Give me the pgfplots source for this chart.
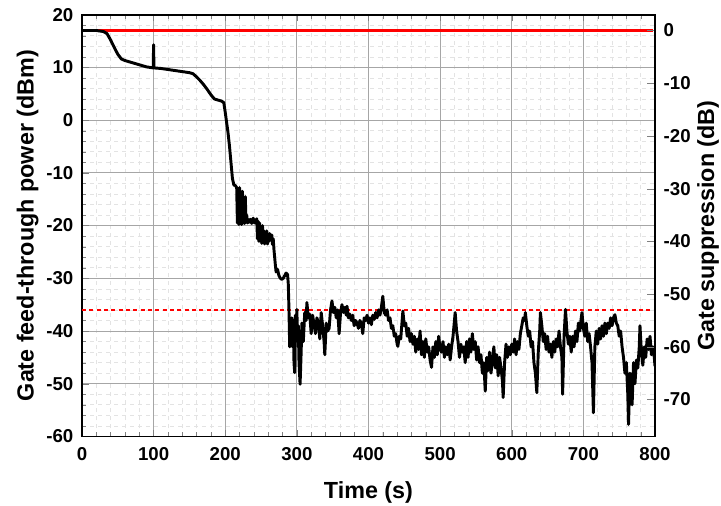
\documentclass[border=0pt]{standalone}
\usepackage{fontspec}
\setmainfont{Liberation Sans}
\usepackage{pgfplots}
\pgfplotsset{compat=1.18}

\pgfplotsset{
  common/.style={
    scale only axis, width=430pt, height=316.5pt,
    xmin=0, xmax=800,
    tick label style={font=\fontsize{14}{15}\selectfont\bfseries},
    label style={font=\fontsize{17.5}{18}\selectfont\bfseries},
    /pgf/number format/assume math mode=true,
    tick align=inside,
    axis line style={line width=1.3pt},
  }
}

\begin{document}
\begin{tikzpicture}
\useasboundingbox (-61.5pt,-52pt) rectangle (479.5pt,327.5pt);
\begin{axis}[common,
  ymin=-60, ymax=20,
  xtick={0,100,...,800}, ytick={-60,-50,...,20},
  minor x tick num=4, minor y tick num=4,
  xtick pos=both, ytick pos=left,
  grid=both,
  major grid style={gray!70, line width=0.6pt},
  minor grid style={gray!22, dashed, line width=0.5pt},
  major tick length=5pt, minor tick length=3pt,
  xticklabel style={yshift=-4.5pt},
  yticklabel style={xshift=-3pt},
  xlabel={Time (s)}, ylabel={Gate feed-through power (dBm)},
  xlabel style={yshift=-9pt},
  ylabel style={yshift=-1pt},
]
\addplot[red, line width=1.8pt] coordinates {(0,17) (797,17)};
\addplot[red, dash pattern=on 3pt off 2.5pt, line width=1.6pt] coordinates {(0,-36) (800,-36)};
\addplot[black, line width=2.2pt, line join=round] coordinates {
(0,17) (20,17) (30,16.8) (35,16.4) (40,15.2) (45,13.8) (50,12.5) (55,11.6) (60,11.3)
(70,10.9) (80,10.5) (90,10.1) (99.5,9.9) (100,14.3) (100.5,9.9) (110,9.8) (120,9.6)
(130,9.4) (140,9.2) (150,9.0) (155,8.8) (160,8.2) (165,7.5) (170,6.7) (175,5.8)
(180,4.8) (185,4.0) (190,3.8) (195,3.6) (198,3.3) (200,1.5) (202,-0.5) (204,-2.5)
(206,-5) (208,-8) (210,-11) (212,-12.3) (214,-12.4) (216,-12.8)
(217,-19.5) (218,-13.2) (219,-19.8) (220,-12.8) (221,-18.5) (222,-14) (223,-19.8)
(224,-13.5) (225,-19.5) (226,-16) (227,-19.6) (228,-14.5) (229,-19) (230,-18)
(231,-19.5) (232,-18.8) (233,-19.4) (235,-18.8) (237,-19.6) (239,-18.6) (241,-19.5)
(243,-19.2) (244,-18.7) (245,-22.5) (246,-19.2) (247,-23) (248,-19.5) (249,-22)
(250,-20.5) (251,-23.4) (252,-20) (253,-22.5) (254,-21) (255,-23.5) (256,-21.5)
(257,-22.8) (258,-21) (259,-23.5) (260,-21.8) (261,-23) (262,-21.5) (263,-22.5)
(264,-22.8) (265,-21.8) (266,-23.6) (267,-22.5) (268,-24.5) (269,-26) (270,-27.5)
(271,-28.8) (273,-28.3) (275,-29.5) (277,-30.0) (279,-30.2) (281,-30.0) (283,-29.5)
(285,-29.0) (287,-29.3) (288,-31) (289,-36) (290,-43)
(291,-38) (292,-42) (293,-37.5) (294,-43) (295,-38) (296,-46) (297,-47.9) (298,-37)
(299,-40) (300,-35.9) (301,-42) (302,-39) (303,-46) (304.5,-50.1) (306,-44) (307,-38.5)
(309,-42) (311,-36.5) (313,-38) (314,-34.6) (316,-37.5) (318,-36.8) (320,-40.5)
(322,-37) (324,-38.8) (326,-40.5) (328,-37.5) (330,-38.5) (332,-41.5) (334,-36.5)
(336,-39) (338,-42) (339,-44.5) (341,-38.5) (343,-40) (345,-39.5) (347,-36) (349,-34.3)
(351,-36.5) (353,-35.5) (355,-37.5) (357,-36) (359,-40.5) (361,-36.5) (363,-35)
(365,-36.5) (367,-35.5) (369,-37) (370,-35.3) (372,-37.5) (374,-36.8) (376,-38)
(378,-37) (380,-39) (382,-38) (384,-38.5) (386,-39.5) (388,-38) (390,-38.5) (392,-40.5)
(394,-37.5) (396,-38) (398,-37) (400,-38.5) (402,-37.5) (404,-38.8) (406,-37)
(408,-37.8) (410,-36.5) (412,-37.5) (414,-36) (416,-37) (418,-35.5) (420,-33.4)
(422,-36.5) (424,-37) (426,-36) (428,-38) (430,-37.5) (432,-39.5) (434,-39) (436,-41)
(438,-40.5) (440,-42.5) (441,-42.9) (443,-41) (445,-41.5) (447,-38) (448,-36.2)
(450,-39) (452,-38.5) (454,-41) (456,-39.5) (458,-42) (460,-40.5) (462,-42.5) (464,-41)
(466,-44) (468,-41.5) (470,-43.5) (472,-40) (474,-44.5) (476,-42) (478,-45) (480,-41.5)
(482,-44) (484,-43) (486,-45.5) (488,-46.9) (490,-43) (492,-45) (494,-42) (496,-44.5)
(498,-41) (500,-43.5) (502,-44) (504,-42) (506,-45) (508,-43) (510,-44.5) (512,-42.5)
(514,-45.5) (516,-43) (518,-41) (520,-38) (521,-36.5) (523,-40) (525,-42) (527,-45)
(529,-42.5) (531,-44) (533,-43) (535,-46) (537,-42) (539,-45) (541,-41.5) (543,-44)
(545,-40.5) (547,-43.5) (549,-42) (551,-45.5) (553,-43) (555,-46) (557,-44.5) (559,-48)
(561,-46) (563,-51.4) (565,-45) (567,-47.5) (569,-44) (571,-48) (573,-45.5) (575,-43)
(577,-47) (579,-44.5) (581,-48.5) (583,-45) (585,-47) (587,-49.5) (588,-52.6) (590,-46)
(592,-42.5) (594,-45) (596,-43) (598,-44.5) (600,-42.5) (602,-44) (604,-41.5)
(606,-44.5) (608,-42) (610,-43.5) (612,-40.5) (614,-39) (616,-37.5) (618,-38)
(619,-36.5) (621,-39) (623,-41) (625,-40) (627,-43) (629,-42) (631,-46) (633,-48)
(635,-51.7) (637,-44) (639,-40) (640,-36.5) (642,-39) (644,-42) (646,-40.5) (648,-43.5)
(650,-41) (652,-44) (654,-42.5) (656,-45) (658,-42) (660,-44) (662,-41.5) (664,-43)
(666,-40) (668,-43) (670,-45) (671,-52) (673,-41) (675,-35.9) (677,-40) (679,-42.5)
(681,-41) (683,-44) (685,-41) (687,-43) (689,-40) (691,-42) (693,-38.5) (695,-40)
(697,-37.5) (698,-36.5) (700,-39.5) (702,-41) (704,-38.5) (706,-42) (708,-40.5)
(710,-43) (712,-46) (714,-55.5) (716,-43) (718,-40) (720,-42.5) (722,-39.5) (724,-41.5)
(726,-39) (728,-41) (730,-38.5) (732,-40.5) (734,-38.5) (736,-39.5) (738,-37.5)
(740,-39) (742,-37.5) (744,-36.9) (746,-38.5) (748,-39) (750,-41) (752,-40) (754,-43)
(756,-45) (758,-48) (760,-46) (762,-52) (763,-57.7) (765,-48) (767,-51) (768,-54)
(770,-46) (772,-50) (774,-45.5) (776,-47) (778,-43) (779,-39) (781,-44) (783,-46.5)
(785,-43) (787,-45) (789,-41.5) (791,-43.5) (793,-41) (795,-44.5) (797,-43) (799,-45)
(800,-46.7)
};
\end{axis}
\begin{axis}[common,
  ymin=-77, ymax=3,
  axis y line*=right, axis x line=none,
  ytick={-70,-60,...,0},
  major tick length=6pt,
  yticklabel style={xshift=3pt},
  ylabel={Gate suppression (dB)},
  ylabel style={yshift=2pt},
]
\addplot[draw=none] coordinates {(0,0) (800,-70)};
\end{axis}
\end{tikzpicture}
\end{document}
